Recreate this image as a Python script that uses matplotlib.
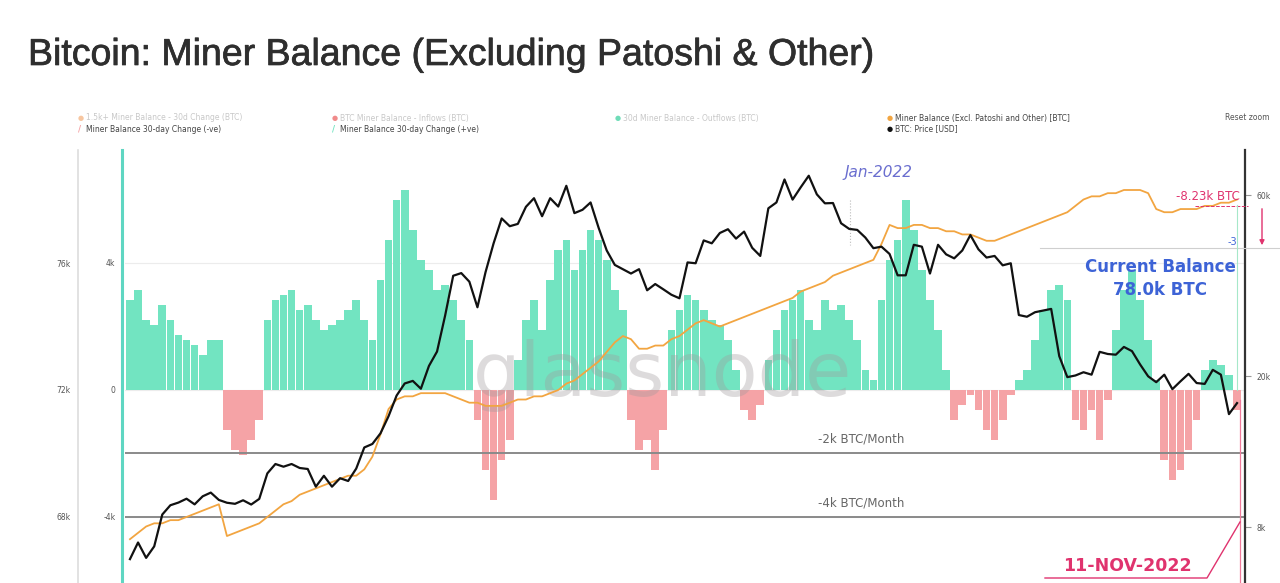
import numpy as np
import pandas as pd
import matplotlib
matplotlib.use("Agg")
import matplotlib.pyplot as plt
import matplotlib.patheffects as pe
from matplotlib.ticker import FixedLocator, NullFormatter, NullLocator

# weekly samples, last one on 11-Nov-2022
dates = pd.date_range(end="2022-11-11", periods=138, freq="7D")

# BTC price (USD)
btc_price = [
    6600, 7300, 6650, 7130, 8650, 9150, 9300, 9520, 9200, 9660,
    9880, 9450, 9290, 9230, 9430, 9190, 9510, 11100, 11750, 11560,
    11750, 11470, 11400, 10240, 10940, 10240, 10780, 10600, 11430, 12990,
    13270, 14150, 15700, 17800, 19150, 19450, 18550, 21300, 23240, 28900,
    36800, 37400, 35500, 30400, 37600, 44800, 52100, 49700, 50400, 55900,
    58900, 52800, 58900, 56000, 63500, 53800, 54900, 57400, 49200, 42900,
    39300, 38300, 37300, 38300, 33700, 35000, 33900, 32800, 32100, 39900,
    39700, 45600, 44800, 47700, 48800, 46100, 48100, 43600, 41500, 55400,
    57400, 65990, 58400, 62900, 67500, 60300, 57100, 57200, 50600, 48900,
    48600, 46400,
    43500, 43900, 42000, 36900, 36900, 44400, 43900, 37300, 44400, 41900,
    40900, 42900, 47100, 43200, 41100, 41500, 39200, 39700, 29000, 28700,
    29500, 29800, 30100, 22600, 19900, 20100, 20500, 20200, 23200, 22900,
    22800, 23900, 23300, 21500, 20000, 19300, 20200, 18500, 19400, 20300,
    19200, 19100, 20800, 20200, 15900, 17000,
]

# miner balance 30-day change (BTC)
balance_change_30d = [
    2840, 3150, 2200, 2050, 2680, 2200, 1730, 1580, 1420, 1100,
    1580, 1580, -1260, -1890, -2050, -1580, -950, 2200, 2840, 2990,
    3150, 2520, 2680, 2200, 1890, 2050, 2200, 2520, 2840, 2200,
    1580, 3470, 4730, 5990, 6300, 5040, 4100, 3780, 3150, 3310,
    2840, 2200, 1580, -950, -2520, -3470, -2200, -1580, 950, 2200,
    2840, 1890, 3470, 4410, 4730, 3780, 4410, 5040, 4730, 4100,
    3150, 2520, -950, -1890, -1580, -2520, -1260, 1890, 2520, 2990,
    2840, 2520, 2200, 2050, 1580, 630, -630, -950, -470, 950,
    1890, 2520, 2840, 3150, 2200, 1890, 2840, 2520, 2680, 2200,
    1580, 630, 320, 2840, 4100, 4730, 5990, 5040, 3780, 2840,
    1890, 630, -950, -470, -160, -630, -1260, -1580, -950, -160,
    320, 630, 1580, 2520, 3150, 3310, 2840, -950, -1260, -630,
    -1580, -320, 1890, 3150, 3780, 2840, 1580, 320, -2200, -2840,
    -2520, -1890, -950, 630, 950, 790, 470, -630,
]

# miner balance excl. Patoshi and other (thousand BTC)
miner_balance_k = [
    67.3, 67.5, 67.7, 67.8, 67.8, 67.9, 67.9, 68.0, 68.1, 68.2,
    68.3, 68.4, 67.4, 67.5, 67.6, 67.7, 67.8, 68.0, 68.2, 68.4,
    68.5, 68.7, 68.8, 68.9, 69.0, 69.1, 69.2, 69.3, 69.3, 69.5,
    69.9, 70.6, 71.4, 71.7, 71.8, 71.8, 71.9, 71.9, 71.9, 71.9,
    71.8, 71.7, 71.6, 71.6, 71.5, 71.5, 71.5, 71.6, 71.7, 71.7,
    71.8, 71.8, 71.9, 72.0, 72.2, 72.3, 72.5, 72.7, 72.9, 73.2,
    73.5, 73.7, 73.6, 73.3, 73.3, 73.4, 73.4, 73.6, 73.7, 73.9,
    74.1, 74.2, 74.1, 74.0, 74.1, 74.2, 74.3, 74.4, 74.5, 74.6,
    74.7, 74.8, 74.9, 75.1, 75.2, 75.3, 75.4, 75.6, 75.7, 75.8,
    75.9, 76.0, 76.1, 76.6, 77.2, 77.1, 77.1, 77.2, 77.2, 77.1,
    77.1, 77.0, 77.0, 76.9, 76.9, 76.8, 76.7, 76.7, 76.8, 76.9,
    77.0, 77.1, 77.2, 77.3, 77.4, 77.5, 77.6, 77.8, 78.0, 78.1,
    78.1, 78.2, 78.2, 78.3, 78.3, 78.3, 78.2, 77.7, 77.6, 77.6,
    77.7, 77.7, 77.7, 77.8, 77.8, 77.9, 77.9, 78.0,
]

balance_ticks = [68, 72, 76]
balance_labels = ["68k", "72k", "76k"]
change_ticks = [-4000, 0, 4000]
change_labels = ["-4k", "0", "4k"]
price_ticks = [8000, 20000, 60000]
price_labels = ["8k", "20k", "60k"]
threshold_lines = [-2000, -4000]
threshold_labels = ["-2k BTC/Month", "-4k BTC/Month"]

W, H = 1280, 583
GREEN = "#72e4c1"
RED = "#f5a3a6"
ORANGE = "#f2a541"
PINK = "#e0336e"
BLUE = "#3d63d6"


def fx(x):
    return x / W


def fy(y):
    return 1 - y / H


fig = plt.figure(figsize=(W / 100, H / 100), dpi=100)
fig.patch.set_facecolor("white")

fig.text(fx(28), fy(55), "Bitcoin: Miner Balance (Excluding Patoshi & Other)",
         fontsize=27, family="Liberation Sans", color="#2e2e2e", va="center",
         path_effects=[pe.withStroke(linewidth=0.5, foreground="#2e2e2e")])

ax_h = fig.add_axes([fx(125), 0, 1120 / W, 433 / H])
ax_b = ax_h.twinx()
ax_p = ax_h.twinx()

x_lo = dates[0] - pd.Timedelta(days=4.3)
x_hi = dates[-1] + pd.Timedelta(days=6.9)

chg = np.array(balance_change_30d)
ax_h.bar(dates, chg, width=6.6, color=np.where(chg >= 0, GREEN, RED),
         edgecolor="none", zorder=2)
ax_h.set_ylim(-6079, 7559)
ax_h.set_xlim(x_lo, x_hi)
for v in change_ticks:
    ax_h.axhline(v, color="#ececec", lw=0.8, zorder=0)
for v, lab in zip(threshold_lines, threshold_labels):
    ax_h.axhline(v, color="#8a8a8a", lw=1.4, zorder=3)
    ax_h.text(pd.Timestamp("2021-12-20"), v + 250, lab, fontsize=8.5,
              color="#666666", ha="center", va="bottom", zorder=4,
              bbox=dict(fc="white", ec="none", pad=1, alpha=0.8))
ax_h.text(0.48, 0.48, "glassnode", transform=ax_h.transAxes, fontsize=54,
          color="#a09a9c", alpha=0.35, ha="center", va="center", zorder=5)

ax_b.plot(dates, miner_balance_k, color=ORANGE, lw=1.3, zorder=3)
ax_b.set_ylim(65.92, 79.56)

ax_p.plot(dates, btc_price, color="#111111", lw=1.6, zorder=4)
ax_p.set_yscale("log")
ax_p.set_ylim(5710, 78900)
ax_p.set_xlim(x_lo, x_hi)

# axes styling
for a in (ax_h, ax_b, ax_p):
    a.xaxis.set_major_locator(NullLocator())
    a.set_facecolor("none")
    for s in ("top", "bottom"):
        a.spines[s].set_visible(False)
ax_h.spines["right"].set_visible(False)
ax_b.spines["right"].set_visible(False)
ax_p.spines["left"].set_visible(False)

ax_h.spines["left"].set_color("#5fd6c2")
ax_h.spines["left"].set_linewidth(2.2)
ax_h.spines["left"].set_position(("outward", 2))
ax_h.yaxis.set_major_locator(FixedLocator(change_ticks))
ax_h.set_yticklabels(change_labels)
ax_h.tick_params(axis="y", labelsize=5.5, labelcolor="#555555", length=0, pad=5)

ax_b.yaxis.tick_left()
ax_b.spines["left"].set_visible(True)
ax_b.spines["left"].set_position(("outward", 33.5))
ax_b.spines["left"].set_color("#dddddd")
ax_b.spines["left"].set_linewidth(1.2)
ax_b.yaxis.set_major_locator(FixedLocator(balance_ticks))
ax_b.set_yticklabels(balance_labels)
ax_b.tick_params(axis="y", labelsize=5.5, labelcolor="#555555", length=0, pad=6)

ax_p.spines["right"].set_color("#333333")
ax_p.spines["right"].set_linewidth(1.6)
ax_p.yaxis.set_major_locator(FixedLocator(price_ticks))
ax_p.yaxis.set_minor_locator(NullLocator())
ax_p.yaxis.set_minor_formatter(NullFormatter())
ax_p.set_yticklabels(price_labels)
ax_p.tick_params(axis="y", labelsize=5.5, labelcolor="#555555", length=4,
                 color="#999999", pad=4)

# annotations
fig.text(fx(879), fy(172), "Jan-2022", fontsize=11, style="italic",
         color="#6a6ecf", ha="center", va="center")
fig.add_artist(plt.Line2D([fx(850), fx(850)], [fy(200), fy(245)],
                          color="#bbbbbb", lw=0.8, ls=":"))
fig.text(fx(1160), fy(267), "Current Balance", fontsize=12, fontweight="bold",
         color=BLUE, ha="center", va="center")
fig.text(fx(1160), fy(290), "78.0k BTC", fontsize=12, fontweight="bold",
         color=BLUE, ha="center", va="center")
fig.text(fx(1240), fy(196), "-8.23k BTC", fontsize=8.5, color=PINK,
         ha="right", va="center")
fig.add_artist(plt.Line2D([fx(1195), fx(1248)], [fy(206), fy(206)],
                          color=PINK, lw=0.7, ls="--"))
ax_p.annotate("", xy=(fx(1262), fy(248)), xytext=(fx(1262), fy(206)),
              xycoords="figure fraction", textcoords="figure fraction",
              annotation_clip=False,
              arrowprops=dict(arrowstyle="-|>", color=PINK, lw=1.0,
                              mutation_scale=7))
fig.add_artist(plt.Line2D([fx(1040), fx(1280)], [fy(248), fy(248)],
                          color="#cfcfcf", lw=0.8))
fig.text(fx(1228), fy(242), "-3", fontsize=7, color=BLUE, ha="left",
         va="center")
fig.add_artist(plt.Line2D([fx(1237), fx(1237)], [fy(205), fy(390)],
                          color="#a6e8c9", lw=0.8))
fig.add_artist(plt.Line2D([fx(1240), fx(1240)], [fy(400), fy(583)],
                          color="#f07a9a", lw=0.9))
fig.text(fx(1127), fy(566), "11-NOV-2022", fontsize=12.5, fontweight="bold",
         color=PINK, ha="center", va="center")
fig.add_artist(plt.Line2D([fx(1045), fx(1207), fx(1240)],
                          [fy(578), fy(578), fy(522)],
                          color=PINK, lw=1.0))

# legend row
leg1 = [
    (78, 118, "#f7c6a0", "1.5k+ Miner Balance - 30d Change (BTC)", "#c8c8c8"),
    (332, 118, "#f08a8a", "BTC Miner Balance - Inflows (BTC)", "#c8c8c8"),
    (615, 118, "#6fdcb8", "30d Miner Balance - Outflows (BTC)", "#c8c8c8"),
    (887, 118, ORANGE, "Miner Balance (Excl. Patoshi and Other) [BTC]", "#444444"),
    (887, 129, "#111111", "BTC: Price [USD]", "#444444"),
]
for x, y, mc, txt, tc in leg1:
    fig.text(fx(x), fy(y), "\u25cf", fontsize=5, color=mc, va="center")
    fig.text(fx(x + 8), fy(y), txt, fontsize=5.5, color=tc, va="center")
leg2 = [
    (78, 129, RED, "Miner Balance 30-day Change (-ve)"),
    (332, 129, GREEN, "Miner Balance 30-day Change (+ve)"),
]
for x, y, mc, txt in leg2:
    fig.text(fx(x), fy(y), "/", fontsize=6, color=mc, va="center",
             fontweight="bold")
    fig.text(fx(x + 8), fy(y), txt, fontsize=5.5, color="#444444", va="center")
fig.text(fx(1225), fy(117), "Reset zoom", fontsize=5.5, color="#555555",
         va="center")

fig.savefig("out.png", dpi=100, facecolor="white")
